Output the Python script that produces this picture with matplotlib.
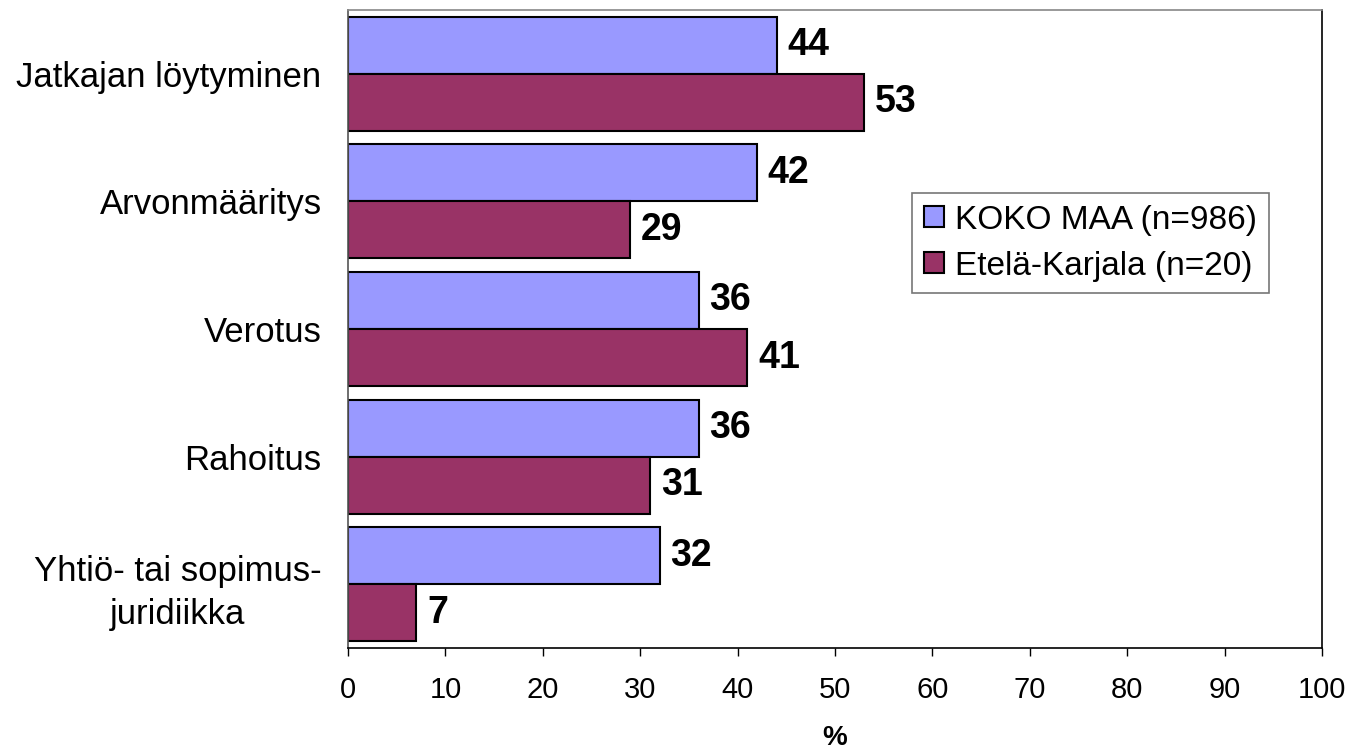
import numpy as np
import matplotlib.pyplot as plt

# Data
categories = ['Jatkajan löytyminen', 'Arvonmääritys', 'Verotus', 'Rahoitus',
              'Yhtiö- tai sopimus-\njuridiikka']
koko_maa = [44, 42, 36, 36, 32]
etela_karjala = [53, 29, 41, 31, 7]
series_names = ['KOKO MAA (n=986)', 'Etelä-Karjala (n=20)']
colors = ['#9999FF', '#993366']

plt.rcParams['font.family'] = ['Liberation Sans', 'DejaVu Sans']

fig = plt.figure(figsize=(13.51, 7.52), dpi=100)
ax = fig.add_axes([348 / 1351, 1 - 648 / 752, 974 / 1351, 638 / 752])

y = np.arange(len(categories))
h = 0.447
bars1 = ax.barh(y - h / 2, koko_maa, height=h, color=colors[0],
                edgecolor='black', linewidth=1.5, label=series_names[0])
bars2 = ax.barh(y + h / 2, etela_karjala, height=h, color=colors[1],
                edgecolor='black', linewidth=1.5, label=series_names[1])

for bars, vals in ((bars1, koko_maa), (bars2, etela_karjala)):
    for b, v in zip(bars, vals):
        ax.text(v + 1.1, b.get_y() + b.get_height() / 2, str(v),
                va='center', ha='left', fontsize=27, fontweight='bold')

ax.set_xlim(0, 100)
ax.set_ylim(len(categories) - 0.5, -0.5)
ax.set_xticks(np.arange(0, 101, 10))
ax.tick_params(axis='x', labelsize=21, length=6, width=1, pad=14)
ax.set_yticks(y)
ax.set_yticklabels(categories, fontsize=25, linespacing=1.4,
                   multialignment='center')
ax.tick_params(axis='y', length=0, pad=19)
ax.set_xlabel('%', fontsize=20, fontweight='bold', labelpad=15)

for s in ax.spines.values():
    s.set_linewidth(1.2)
ax.spines['top'].set_color('#888888')
ax.spines['left'].set_color('#555555')

leg = ax.legend(loc='upper left', bbox_to_anchor=(564 / 974, 1 - 183 / 638),
                fontsize=24, frameon=True, fancybox=False, edgecolor='#555555',
                handlelength=0.6, handleheight=0.6, handletextpad=0.35,
                borderpad=0.35, labelspacing=0.45, borderaxespad=0)
leg.get_frame().set_linewidth(1.2)

fig.savefig('out.png', dpi=100)
